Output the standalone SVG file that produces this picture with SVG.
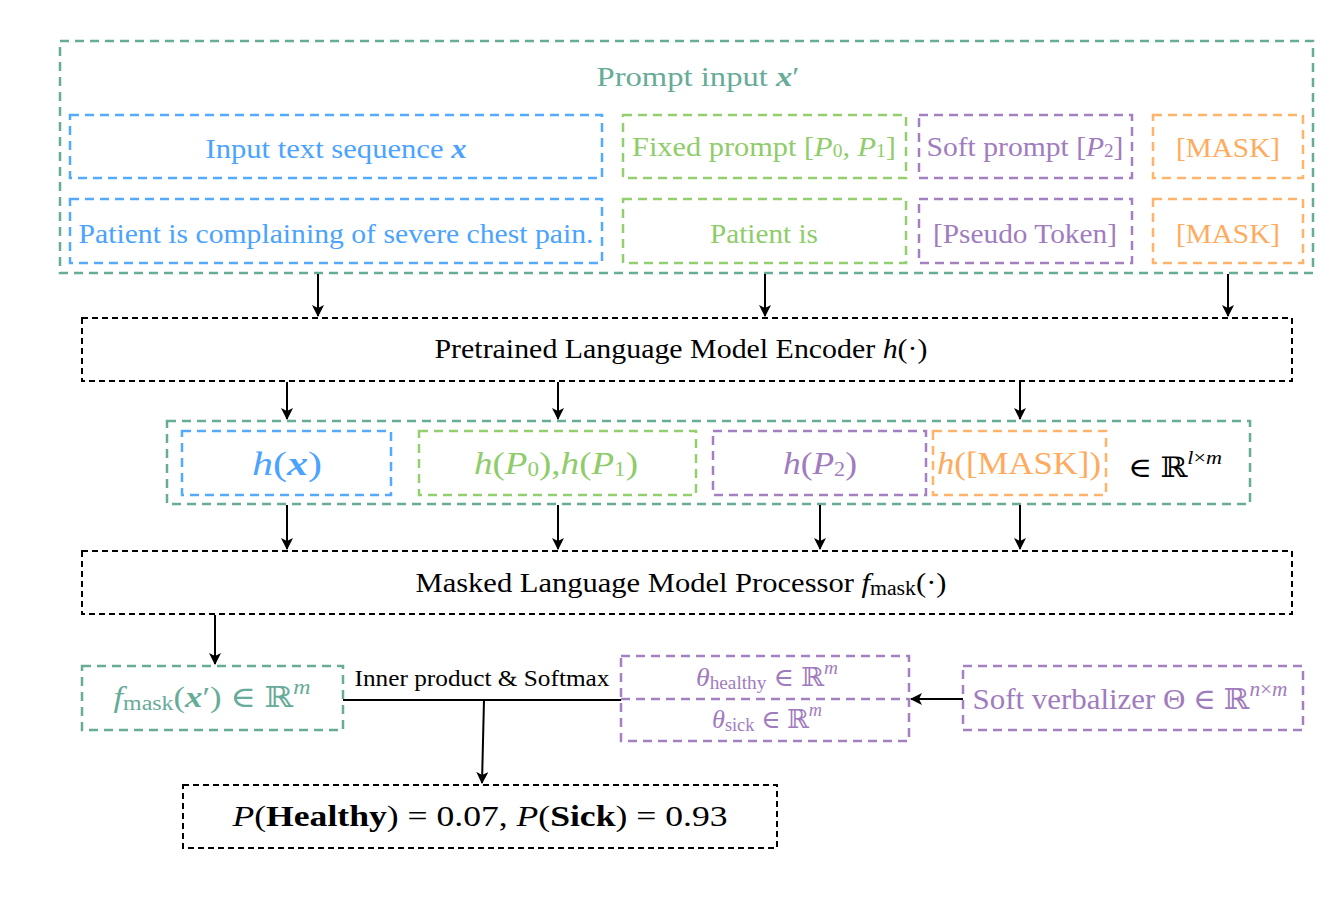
<svg xmlns="http://www.w3.org/2000/svg" width="1344" height="914" viewBox="0 0 1344 914">
<defs>
<marker id="arr" viewBox="0 0 12 12" refX="11" refY="6" markerWidth="12" markerHeight="12" markerUnits="userSpaceOnUse" orient="auto">
<path d="M0,0 L12,6 L0,12 L3,6 Z" fill="#000"/>
</marker>
<style>
text{font-family:"Liberation Serif","DejaVu Serif",serif;text-anchor:middle;dominant-baseline:central}
.box{fill:none;stroke-width:2.5;stroke-dasharray:9 6}
.blk{fill:none;stroke:#000;stroke-width:2;stroke-dasharray:6 4}
.teal{stroke:#67ab99}.blue{stroke:#55aaff}.green{stroke:#93cf6e}.purple{stroke:#a47fc2}.orange{stroke:#ffb36b}
.tt{fill:#67ab99}.tb{fill:#4aa3ff}.tg{fill:#8fcc6a}.tp{fill:#a07cbe}.to{fill:#ffab5e}.tk{fill:#000}
.i{font-style:italic}.bi{font-style:italic;font-weight:bold}.b{font-weight:bold}
.conn{stroke:#000;stroke-width:2;fill:none}
</style>
</defs>

<g id="prompt-input">
<rect class="box teal" x="60" y="41" width="1253" height="232"/>
<text class="tt" x="698" y="76" font-size="28" textLength="203" lengthAdjust="spacingAndGlyphs">Prompt input <tspan class="bi">x</tspan>′</text>
</g>
<g id="input-seq">
<rect class="box blue" x="70" y="115" width="532" height="63"/>
<text class="tb" x="336" y="148" font-size="28" textLength="261" lengthAdjust="spacingAndGlyphs">Input text sequence <tspan class="bi">x</tspan></text>
</g>
<g id="input-example">
<rect class="box blue" x="70" y="199" width="532" height="64"/>
<text class="tb" x="336" y="233" font-size="28" textLength="515" lengthAdjust="spacingAndGlyphs">Patient is complaining of severe chest pain.</text>
</g>
<g id="fixed-prompt">
<rect class="box green" x="623" y="115" width="283" height="63"/>
<text class="tg" x="764" y="146" font-size="28" textLength="264" lengthAdjust="spacingAndGlyphs">Fixed prompt [<tspan class="i">P</tspan><tspan font-size="18" dy="5">0</tspan><tspan dy="-5">, </tspan><tspan class="i">P</tspan><tspan font-size="18" dy="5">1</tspan><tspan dy="-5">]</tspan></text>
</g>
<g id="fixed-example">
<rect class="box green" x="623" y="199" width="283" height="64"/>
<text class="tg" x="764" y="233" font-size="28" textLength="108" lengthAdjust="spacingAndGlyphs">Patient is</text>
</g>
<g id="soft-prompt">
<rect class="box purple" x="919" y="115" width="213" height="63"/>
<text class="tp" x="1025" y="146" font-size="28" textLength="197" lengthAdjust="spacingAndGlyphs">Soft prompt [<tspan class="i">P</tspan><tspan font-size="18" dy="5">2</tspan><tspan dy="-5">]</tspan></text>
</g>
<g id="pseudo-token">
<rect class="box purple" x="919" y="199" width="213" height="64"/>
<text class="tp" x="1025" y="233" font-size="28" textLength="184" lengthAdjust="spacingAndGlyphs">[Pseudo Token]</text>
</g>
<g id="mask1">
<rect class="box orange" x="1153" y="115" width="150" height="63"/>
<text class="to" x="1228" y="147" font-size="28" textLength="104" lengthAdjust="spacingAndGlyphs">[MASK]</text>
</g>
<g id="mask2">
<rect class="box orange" x="1153" y="199" width="150" height="64"/>
<text class="to" x="1228" y="233" font-size="28" textLength="104" lengthAdjust="spacingAndGlyphs">[MASK]</text>
</g>

<g id="encoder">
<rect class="blk" x="82" y="318" width="1210" height="63"/>
<text class="tk" x="681" y="348" font-size="28" textLength="493" lengthAdjust="spacingAndGlyphs">Pretrained Language Model Encoder <tspan class="i">h</tspan>(·)</text>
</g>

<g id="hidden">
<rect class="box teal" x="167" y="421" width="1083" height="83"/>
<text class="tk" x="1175" y="467" font-size="28" fill="#222" textLength="94" lengthAdjust="spacingAndGlyphs">∈ ℝ<tspan font-size="19" dy="-10" class="i">l</tspan><tspan font-size="19">×</tspan><tspan font-size="19" class="i">m</tspan></text>
</g>
<g id="hx">
<rect class="box blue" x="182" y="431" width="209" height="64"/>
<text class="tb" x="287" y="463" font-size="34" textLength="70" lengthAdjust="spacingAndGlyphs"><tspan class="i">h</tspan>(<tspan class="bi">x</tspan>)</text>
</g>
<g id="hp01">
<rect class="box green" x="419" y="431" width="277" height="64"/>
<text class="tg" x="556" y="463" font-size="32" textLength="164" lengthAdjust="spacingAndGlyphs"><tspan class="i">h</tspan>(<tspan class="i">P</tspan><tspan font-size="20" dy="6">0</tspan><tspan dy="-6">),</tspan><tspan class="i">h</tspan>(<tspan class="i">P</tspan><tspan font-size="20" dy="6">1</tspan><tspan dy="-6">)</tspan></text>
</g>
<g id="hp2">
<rect class="box purple" x="713" y="431" width="213" height="64"/>
<text class="tp" x="820" y="463" font-size="32" textLength="74" lengthAdjust="spacingAndGlyphs"><tspan class="i">h</tspan>(<tspan class="i">P</tspan><tspan font-size="20" dy="6">2</tspan><tspan dy="-6">)</tspan></text>
</g>
<g id="hmask">
<rect class="box orange" x="933" y="431" width="173" height="64"/>
<text class="to" x="1019" y="463" font-size="32" textLength="164" lengthAdjust="spacingAndGlyphs"><tspan class="i">h</tspan>([MASK])</text>
</g>

<g id="mlm">
<rect class="blk" x="82" y="551" width="1210" height="63"/>
<text class="tk" x="681" y="582" font-size="28" textLength="531" lengthAdjust="spacingAndGlyphs">Masked Language Model Processor <tspan class="i">f</tspan><tspan font-size="20" dy="6">mask</tspan><tspan dy="-6">(·)</tspan></text>
</g>

<g id="fmask">
<rect class="box teal" x="82" y="666" width="261" height="64"/>
<text class="tt" x="212" y="697" font-size="29" textLength="197" lengthAdjust="spacingAndGlyphs"><tspan class="i">f</tspan><tspan font-size="20" dy="6">mask</tspan><tspan dy="-6">(</tspan><tspan class="bi">x</tspan>′) ∈ ℝ<tspan class="i" font-size="20" dy="-10">m</tspan></text>
</g>

<g id="theta">
<rect class="box purple" x="621" y="656" width="288" height="85"/>
<line class="box purple" x1="621" y1="699" x2="909" y2="699"/>
<text class="tp" x="767" y="677" font-size="26" textLength="142" lengthAdjust="spacingAndGlyphs"><tspan class="i">θ</tspan><tspan font-size="18" dy="6">healthy</tspan><tspan dy="-6"> ∈ ℝ</tspan><tspan class="i" font-size="18" dy="-9">m</tspan></text>
<text class="tp" x="767" y="719" font-size="26" textLength="110" lengthAdjust="spacingAndGlyphs"><tspan class="i">θ</tspan><tspan font-size="18" dy="6">sick</tspan><tspan dy="-6"> ∈ ℝ</tspan><tspan class="i" font-size="18" dy="-9">m</tspan></text>
</g>

<g id="verbalizer">
<rect class="box purple" x="963" y="666" width="340" height="64"/>
<text class="tp" x="1130" y="699" font-size="29" textLength="315" lengthAdjust="spacingAndGlyphs">Soft verbalizer Θ ∈ ℝ<tspan class="i" font-size="20" dy="-10">n</tspan><tspan font-size="20">×</tspan><tspan class="i" font-size="20">m</tspan></text>
</g>

<g id="result">
<rect class="blk" x="183" y="785" width="594" height="63"/>
<text class="tk" x="480" y="815" font-size="30" textLength="495" lengthAdjust="spacingAndGlyphs"><tspan class="i">P</tspan>(<tspan class="b">Healthy</tspan>) = 0.07,  <tspan class="i">P</tspan>(<tspan class="b">Sick</tspan>) = 0.93</text>
</g>

<g id="connectors">
<line class="conn" x1="318" y1="274" x2="318" y2="316" marker-end="url(#arr)"/>
<line class="conn" x1="765" y1="274" x2="765" y2="316" marker-end="url(#arr)"/>
<line class="conn" x1="1228" y1="274" x2="1228" y2="316" marker-end="url(#arr)"/>
<line class="conn" x1="287" y1="382" x2="287" y2="419" marker-end="url(#arr)"/>
<line class="conn" x1="558" y1="382" x2="558" y2="419" marker-end="url(#arr)"/>
<line class="conn" x1="1020" y1="382" x2="1020" y2="419" marker-end="url(#arr)"/>
<line class="conn" x1="287" y1="505" x2="287" y2="549" marker-end="url(#arr)"/>
<line class="conn" x1="558" y1="505" x2="558" y2="549" marker-end="url(#arr)"/>
<line class="conn" x1="820" y1="505" x2="820" y2="549" marker-end="url(#arr)"/>
<line class="conn" x1="1020" y1="505" x2="1020" y2="549" marker-end="url(#arr)"/>
<line class="conn" x1="215" y1="615" x2="215" y2="664" marker-end="url(#arr)"/>
<line class="conn" x1="343" y1="700" x2="621" y2="700"/>
<path class="conn" d="M484,700 L482,783" marker-end="url(#arr)"/>
<line class="conn" x1="963" y1="699" x2="911" y2="699" marker-end="url(#arr)"/>
<text class="tk" x="482" y="678" font-size="24" textLength="255" lengthAdjust="spacingAndGlyphs">Inner product &amp; Softmax</text>
</g>
</svg>
